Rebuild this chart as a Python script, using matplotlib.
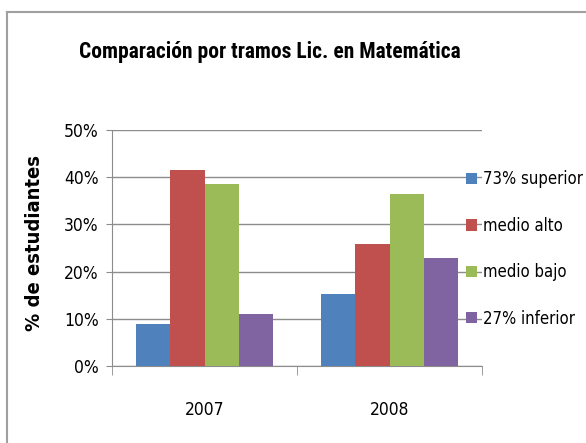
import matplotlib
matplotlib.use('Agg')
import matplotlib.pyplot as plt
import numpy as np
from matplotlib.lines import Line2D

plt.rcParams['font.family'] = 'DejaVu Sans'
plt.rcParams['font.stretch'] = 'condensed'

# data (percent of students)
years = ['2007', '2008']
tramos = ['73% superior', 'medio alto', 'medio bajo', '27% inferior']
superior = [8.9, 15.3]
medio_alto = [41.5, 25.8]
medio_bajo = [38.6, 36.4]
inferior = [11.0, 22.9]
colores = ['#4F81BD', '#C0504D', '#9BBB59', '#8064A2']

series = [superior, medio_alto, medio_bajo, inferior]

fig = plt.figure(figsize=(5.86, 4.43), dpi=100)
ax = fig.add_axes([112 / 586, 1 - 366 / 443, 370 / 586, 236 / 443])

x = np.arange(len(years))
w = 0.184
for i, vals in enumerate(series):
    ax.bar(x + (i - 1.5) * w, vals, w, color=colores[i], label=tramos[i], zorder=3)

ax.set_xlim(-0.5, 1.5)
ax.set_ylim(0, 50)
ax.set_yticks(np.arange(0, 51, 10))
ax.set_yticklabels(['%d%%' % v for v in range(0, 51, 10)])
ax.set_xticks(x)
ax.set_xticklabels(years)
ax.set_xticks([-0.5, 0.5, 1.5], minor=True)
ax.tick_params(axis='x', which='major', length=0, pad=25, labelsize=12.5)
ax.tick_params(axis='x', which='minor', length=6.5, color='#8c8c8c', direction='out')
ax.tick_params(axis='y', length=4.5, color='#8c8c8c', pad=5, labelsize=12.5)
ax.grid(axis='y', color='#8c8c8c', lw=1, zorder=0)
for s in ['top', 'right']:
    ax.spines[s].set_visible(False)
for s in ['left', 'bottom']:
    ax.spines[s].set_color('#8c8c8c')
ax.set_axisbelow(True)

# the title is much narrower than the rest of the text
fig.text(270 / 586, 1 - 52 / 443, 'Comparación por tramos Lic. en Matemática',
         ha='center', va='center', fontsize=15.5, fontweight='bold',
         family=['Roboto Condensed', 'DejaVu Sans'])
fig.text(35 / 586, 1 - 243 / 443, '% de estudiantes', rotation=90,
         ha='center', va='center', fontsize=14.5, fontweight='bold')

fig.legend(loc='center left', bbox_to_anchor=(466 / 586, 1 - 249 / 443),
           frameon=False, fontsize=12, borderpad=0, borderaxespad=0,
           handlelength=0.66, handleheight=0.66, handletextpad=0.35,
           labelspacing=1.7)

# chart border (left and top edges only are visible)
fig.add_artist(Line2D([7 / 586, 7 / 586], [0, 1 - 12 / 443], transform=fig.transFigure,
                      color='#a0a0a0', lw=1.5))
fig.add_artist(Line2D([7 / 586, 1], [1 - 12 / 443, 1 - 12 / 443], transform=fig.transFigure,
                      color='#a0a0a0', lw=1.5))

fig.savefig('out.png', dpi=100)
